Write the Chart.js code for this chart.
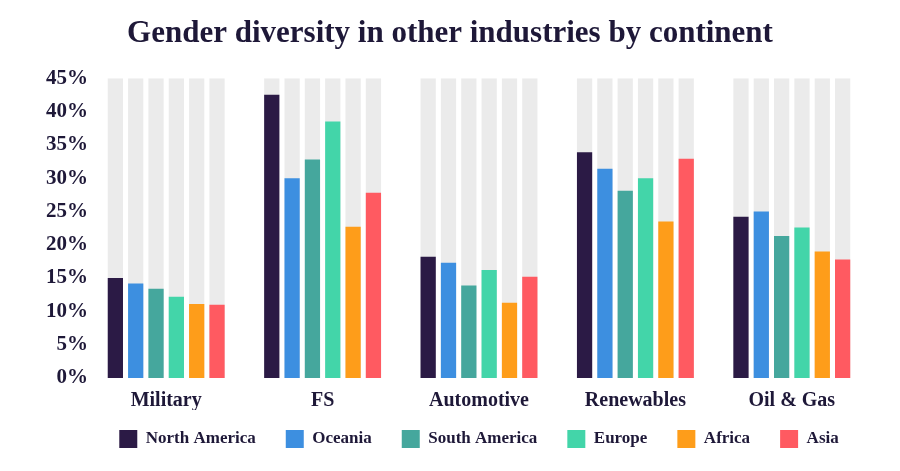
<!DOCTYPE html>
<html>
<head>
<meta charset="utf-8">
<title>Gender diversity in other industries by continent</title>
<script src="https://cdn.jsdelivr.net/npm/chart.js@4.4.1/dist/chart.umd.min.js"></script>
<style>
  html, body { margin: 0; padding: 0; background: #ffffff; }
  #wrap { width: 900px; height: 471px; }
</style>
</head>
<body>
<div id="wrap"><canvas id="chart" width="900" height="471"></canvas></div>
<script>
// industries along the x axis
const industries = ['Military', 'FS', 'Automotive', 'Renewables', 'Oil & Gas']

// share of women, %
const northAmerica = [15.0, 42.5, 18.2, 33.9, 24.2]
const oceania      = [14.2, 30.0, 17.3, 31.4, 25.0]
const southAmerica = [13.4, 32.8, 13.9, 28.1, 21.3]
const europe       = [12.2, 38.5, 16.2, 30.0, 22.6]
const africa       = [11.1, 22.7, 11.3, 23.5, 19.0]
const asia         = [11.0, 27.8, 15.2, 32.9, 17.8]

const continents = ['North America', 'Oceania', 'South America', 'Europe', 'Africa', 'Asia']
const colours = ['#2b1a45', '#3d8fe0', '#45a79d', '#43d5a9', '#fe9d1a', '#ff5a61']

// y axis
const yMax = 45
const yStep = 5

const ink = '#1e1838'
const track = '#ebebeb'
const serif = "'Liberation Serif', 'Times New Roman', serif"

const series = [northAmerica, oceania, southAmerica, europe, africa, asia]

const barOpts = { categoryPercentage: 0.78, barPercentage: 0.75, borderWidth: 0 }

// grey track behind each bar, full height of the axis.
// track and bar share a stack id so they sit in the same slot
const tracks = continents.map((name, i) => ({
	label: 'track-' + i,
	data: industries.map(() => yMax),
	backgroundColor: track,
	stack: 's' + i,
	order: 2,
	...barOpts
}))

const bars = continents.map((name, i) => ({
	label: name,
	data: series[i],
	backgroundColor: colours[i],
	stack: 's' + i,
	order: 1,
	...barOpts
}))

// legend padding is used for both the gap between items and the space above them,
// so pull the legend up a little to keep the wide gaps
const legendNudge = {
	id: 'legendNudge',
	afterLayout(chart) {
		chart.legend.top -= 10
		chart.legend.bottom -= 10
	}
}

new Chart(document.getElementById('chart'), {
	type: 'bar',
	data: {
		labels: industries,
		datasets: [...tracks, ...bars]
	},
	plugins: [legendNudge],
	options: {
		responsive: false,
		animation: false,
		devicePixelRatio: 1,
		layout: { padding: { left: 0, right: 0, top: 0, bottom: 3 } },
		plugins: {
			title: {
				display: true,
				text: 'Gender diversity in other industries by continent',
				color: ink,
				font: { family: serif, size: 31, weight: 'bold', lineHeight: 1.2 },
				padding: { top: 15, bottom: 26 }
			},
			legend: {
				position: 'bottom',
				fullSize: false,
				labels: {
					filter: (item) => !item.text.startsWith('track-'),
					boxWidth: 18,
					boxHeight: 18,
					padding: 30,
					color: ink,
					font: { family: serif, size: 17, weight: 'bold' }
				}
			},
			tooltip: { enabled: false }
		},
		scales: {
			x: {
				grid: { display: false, drawTicks: false },
				border: { display: false },
				ticks: {
					color: ink,
					padding: 11,
					font: { family: serif, size: 20, weight: 'bold' }
				},
				afterFit: (scale) => { scale.height = 32 }
			},
			y: {
				min: 0,
				max: yMax,
				stacked: false,
				grid: { display: false, drawTicks: false },
				border: { display: false },
				ticks: {
					stepSize: yStep,
					padding: 0,
					color: ink,
					font: { family: serif, size: 21, weight: 'bold' },
					callback: (v) => v + '%'
				},
				afterFit: (scale) => { scale.width = 88 }
			},
			// empty right margin, so the title stays centred on the page
			yGap: {
				position: 'right',
				grid: { display: false, drawTicks: false },
				border: { display: false },
				ticks: { display: false },
				afterFit: (scale) => { scale.width = 30 }
			}
		}
	}
})
</script>
</body>
</html>
